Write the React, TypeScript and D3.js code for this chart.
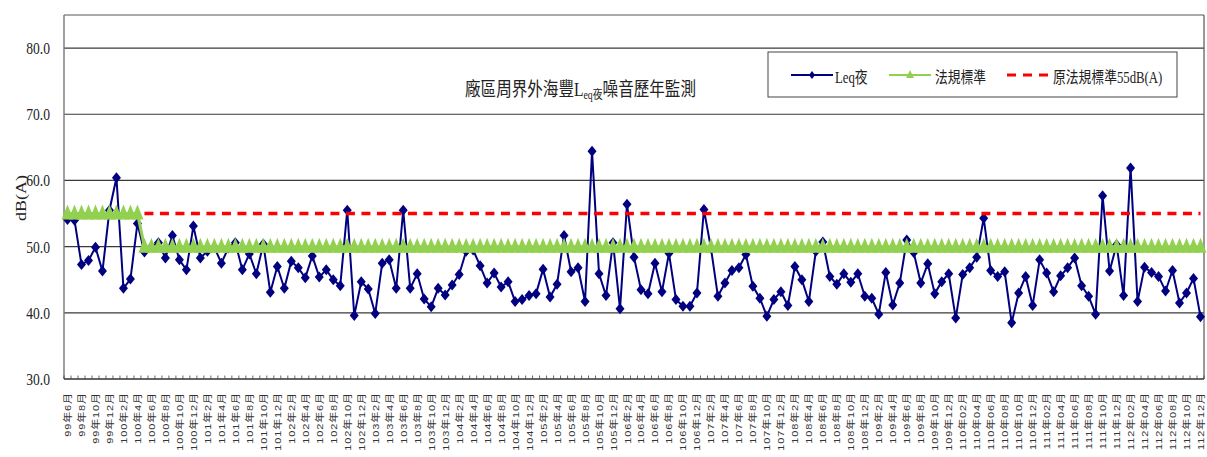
import React from 'react';
import * as d3 from 'd3';

// ---- data ----
const startYear = 99;
const startMonth = 6;
const endYear = 112;
const endMonth = 12;

const categories: string[] = [];
for (let y = startYear, m = startMonth; y < endYear || (y === endYear && m <= endMonth); ) {
  const mm = y >= 110 ? String(m).padStart(2, '0') : String(m);
  categories.push(`${y}年${mm}月`);
  m++;
  if (m > 12) { m = 1; y++; }
}

const leqNight: number[] = [
  54.1, 54.0, 47.3, 47.9, 49.9, 46.3, 55.5, 60.4, 43.7, 45.1,
  53.5, 49.2, 50.0, 50.6, 48.3, 51.7, 48.0, 46.5, 53.1, 48.3,
  49.3, 49.9, 47.5, 49.8, 50.6, 46.5, 48.9, 45.9, 50.4, 43.1,
  47.0, 43.7, 47.8, 46.8, 45.3, 48.6, 45.4, 46.5, 45.0, 44.1,
  55.5, 39.6, 44.7, 43.6, 39.9, 47.5, 48.0, 43.7, 55.5, 43.7,
  45.9, 42.1, 40.9, 43.7, 42.7, 44.2, 45.8, 49.3, 49.5, 47.1,
  44.5, 46.0, 43.9, 44.7, 41.7, 42.0, 42.6, 42.9, 46.6, 42.4,
  44.3, 51.7, 46.2, 46.8, 41.7, 64.4, 45.9, 42.6, 50.6, 40.6,
  56.4, 48.4, 43.5, 42.9, 47.5, 43.2, 49.0, 42.0, 41.0, 41.0,
  43.0, 55.6, 49.8, 42.5, 44.5, 46.4, 46.8, 48.8, 44.0, 42.2,
  39.5, 42.0, 43.2, 41.1, 47.0, 45.0, 41.7, 49.3, 50.7, 45.5,
  44.3, 45.9, 44.6, 45.9, 42.5, 42.2, 39.8, 46.1, 41.2, 44.5,
  51.0, 49.1, 44.5, 47.4, 42.9, 44.7, 45.9, 39.2, 45.8, 46.8,
  48.4, 54.3, 46.4, 45.5, 46.2, 38.5, 43.0, 45.5, 41.1, 48.0,
  46.0, 43.2, 45.6, 46.8, 48.3, 44.1, 42.5, 39.8, 57.7, 46.3,
  50.3, 42.6, 61.9, 41.7, 46.9, 46.1, 45.5, 43.3, 46.4, 41.5,
  43.0, 45.2, 39.4,
];

const standard: number[] = [
  55, 55, 55, 55, 55, 55, 55, 55, 55, 55,
  55, 50, 50, 50, 50, 50, 50, 50, 50, 50,
  50, 50, 50, 50, 50, 50, 50, 50, 50, 50,
  50, 50, 50, 50, 50, 50, 50, 50, 50, 50,
  50, 50, 50, 50, 50, 50, 50, 50, 50, 50,
  50, 50, 50, 50, 50, 50, 50, 50, 50, 50,
  50, 50, 50, 50, 50, 50, 50, 50, 50, 50,
  50, 50, 50, 50, 50, 50, 50, 50, 50, 50,
  50, 50, 50, 50, 50, 50, 50, 50, 50, 50,
  50, 50, 50, 50, 50, 50, 50, 50, 50, 50,
  50, 50, 50, 50, 50, 50, 50, 50, 50, 50,
  50, 50, 50, 50, 50, 50, 50, 50, 50, 50,
  50, 50, 50, 50, 50, 50, 50, 50, 50, 50,
  50, 50, 50, 50, 50, 50, 50, 50, 50, 50,
  50, 50, 50, 50, 50, 50, 50, 50, 50, 50,
  50, 50, 50, 50, 50, 50, 50, 50, 50, 50,
  50, 50, 50,
];

const N = null;
const oldStandard: (number | null)[] = [
  N, N, N, N, N, N, N, N, N, N,
  N, 55, 55, 55, 55, 55, 55, 55, 55, 55,
  55, 55, 55, 55, 55, 55, 55, 55, 55, 55,
  55, 55, 55, 55, 55, 55, 55, 55, 55, 55,
  55, 55, 55, 55, 55, 55, 55, 55, 55, 55,
  55, 55, 55, 55, 55, 55, 55, 55, 55, 55,
  55, 55, 55, 55, 55, 55, 55, 55, 55, 55,
  55, 55, 55, 55, 55, 55, 55, 55, 55, 55,
  55, 55, 55, 55, 55, 55, 55, 55, 55, 55,
  55, 55, 55, 55, 55, 55, 55, 55, 55, 55,
  55, 55, 55, 55, 55, 55, 55, 55, 55, 55,
  55, 55, 55, 55, 55, 55, 55, 55, 55, 55,
  55, 55, 55, 55, 55, 55, 55, 55, 55, 55,
  55, 55, 55, 55, 55, 55, 55, 55, 55, 55,
  55, 55, 55, 55, 55, 55, 55, 55, 55, 55,
  55, 55, 55, 55, 55, 55, 55, 55, 55, 55,
  55, 55, 55,
];

const yTicks: number[] = [30, 40, 50, 60, 70, 80];
const seriesNames: string[] = ['Leq夜', '法規標準', '原法規標準55dB(A)'];
const titleParts = { pre: '廠區周界外海豐L', sub: 'eq夜', post: '噪音歷年監測' };
const yTitle = 'dB(A)';

// ---- layout ----
const W = 1207;
const H = 457;
const plot = { left: 64, right: 1204, top: 15, bottom: 379 };
const SERIF = "'Liberation Serif', 'Noto Sans CJK TC', serif";
const SANS = "'Liberation Sans', 'Noto Sans CJK TC', sans-serif";
const SX = 0.8;

const NAVY = '#000080';
const GREEN = '#92D050';
const RED = '#FF0000';

const diamond = 'M0,-5.5L4.5,0L0,5.5L-4.5,0Z';
const triangle = 'M0,-9L6,6L-6,6Z';

export default function App() {
  const x = d3.scaleBand<string>().domain(categories).range([plot.left, plot.right]).padding(0);
  const bw = x.bandwidth();
  const cx = (i: number) => (x(categories[i]) as number) + bw / 2;
  const y = d3.scaleLinear().domain([30, 85]).range([plot.bottom, plot.top]);

  const lineGen = d3
    .line<number | null>()
    .defined((d) => d !== null)
    .x((_, i) => cx(i))
    .y((d) => y(d as number));

  return (
    <svg width={W} height={H} style={{ position: 'absolute', left: 0, top: 0, background: '#fff' }}>
      <rect x={0} y={0} width={W} height={H} fill="#fff" />
      {/* gridlines */}
      {yTicks.filter((t) => t > 30).map((t) => (
        <line key={t} x1={plot.left} x2={plot.right} y1={y(t)} y2={y(t)} stroke="#3a3a3a" strokeWidth={1.2} />
      ))}
      {/* plot border */}
      <line x1={plot.left} x2={plot.right} y1={plot.top} y2={plot.top} stroke="#555" strokeWidth={1.2} />
      <line x1={plot.right} x2={plot.right} y1={plot.top} y2={plot.bottom} stroke="#555" strokeWidth={1.2} />
      <line x1={plot.left} x2={plot.left} y1={plot.top} y2={plot.bottom} stroke="#777" strokeWidth={1.4} />
      <line x1={plot.left} x2={plot.right} y1={plot.bottom} y2={plot.bottom} stroke="#333" strokeWidth={1.4} />
      {/* x ticks */}
      {d3.range(categories.length + 1).map((k) => {
        const xx = plot.left + k * bw;
        return <line key={k} x1={xx} x2={xx} y1={plot.bottom} y2={plot.bottom - 3.5} stroke="#444" strokeWidth={0.8} />;
      })}
      {/* y tick labels */}
      {yTicks.map((t) => (
        <text key={t} transform={`translate(50,${y(t) + 6}) scale(${SX},1)`} textAnchor="end" fontFamily={SERIF} fontSize={17} fill="#222">
          {t.toFixed(1)}
        </text>
      ))}
      {/* y title */}
      <text transform={`translate(26,198) scale(0.8,1) rotate(-90)`} textAnchor="middle" fontFamily={SERIF} fontSize={18} fill="#222">
        {yTitle}
      </text>
      {/* x labels */}
      {categories.map((c, i) =>
        i % 2 === 0 ? (
          <text key={c} transform={`translate(${cx(i) + 3.5},392) scale(0.85,1) rotate(-90)`} textAnchor="end" fontFamily={SANS} fontSize={11} letterSpacing={0.9} fill="#333">
            {c}
          </text>
        ) : null
      )}

      {/* series: Leq */}
      <path d={lineGen(leqNight) || ''} fill="none" stroke={NAVY} strokeWidth={2} />
      {leqNight.map((v, i) => (
        <path key={i} d={diamond} transform={`translate(${cx(i)},${y(v)})`} fill={NAVY} />
      ))}
      {/* series: standard */}
      <path d={lineGen(standard) || ''} fill="none" stroke={GREEN} strokeWidth={3} />
      {standard.map((v, i) => (
        <path key={i} d={triangle} transform={`translate(${cx(i)},${y(v)})`} fill={GREEN} />
      ))}
      {/* series: old standard */}
      <path d={lineGen(oldStandard) || ''} fill="none" stroke={RED} strokeWidth={3.5} strokeDasharray="9,6.5" />

      {/* title */}
      <g transform="translate(580.5,96)">
        <text textAnchor="middle" transform={`scale(0.82,1)`} fontFamily={SERIF} fontSize={19} fill="#222">
          <tspan>{titleParts.pre}</tspan>
          <tspan fontSize={12} dy={3}>{titleParts.sub}</tspan>
          <tspan dy={-3}>{titleParts.post}</tspan>
        </text>
      </g>

      {/* legend */}
      <rect x={768} y={52} width={409} height={45} fill="#fff" stroke="#444" strokeWidth={1} />
      <line x1={791} x2={833} y1={75} y2={75} stroke={NAVY} strokeWidth={2} />
      <path d="M0,-4L3,0L0,4L-3,0Z" transform="translate(812,75)" fill={NAVY} />
      <text transform={`translate(835,83) scale(${SX},1)`} fontFamily={SERIF} fontSize={16} fill="#222">{seriesNames[0]}</text>
      <line x1={889} x2={931} y1={75} y2={75} stroke={GREEN} strokeWidth={2} />
      <path d="M0,-5L4,3L-4,3Z" transform="translate(910,75)" fill={GREEN} />
      <text transform={`translate(935,83) scale(${SX},1)`} fontFamily={SERIF} fontSize={16} fill="#222">{seriesNames[1]}</text>
      <line x1={1007} x2={1049} y1={75} y2={75} stroke={RED} strokeWidth={3} strokeDasharray="9,7" />
      <text transform={`translate(1053,83) scale(${SX},1)`} fontFamily={SERIF} fontSize={16} fill="#222">{seriesNames[2]}</text>
    </svg>
  );
}
